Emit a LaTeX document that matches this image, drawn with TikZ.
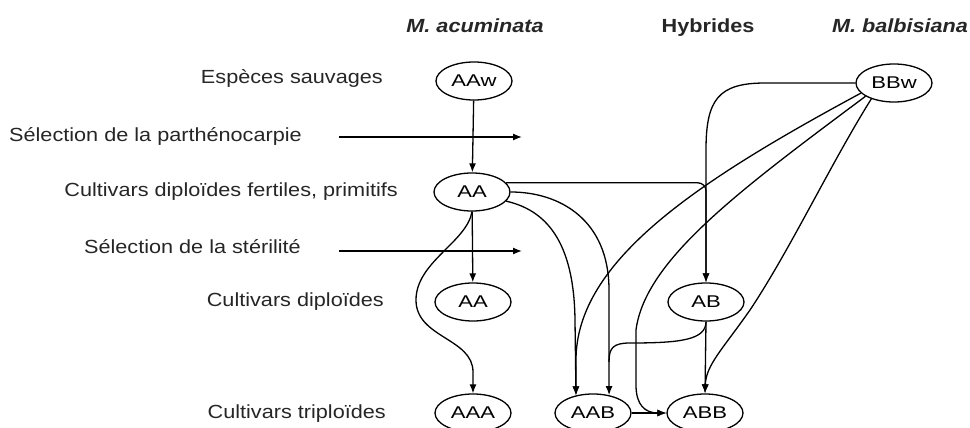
\documentclass[tikz,border=0pt]{standalone}
\usepackage{fontspec}
\setmainfont{Liberation Sans}
\usepackage{graphicx}
\usetikzlibrary{shapes.geometric,arrows.meta}
\newcommand{\wlab}[1]{\scalebox{1.14}[1]{#1}}
\newcommand{\wnod}[1]{\scalebox{1.3}[1]{#1}}
\begin{document}
\begin{tikzpicture}[x=1pt,y=-1pt,
  lab/.style={anchor=base east,inner sep=0pt,font=\fontsize{19}{22}\selectfont,text=black!85},
  head/.style={anchor=base,inner sep=0pt,font=\fontsize{19}{22}\selectfont\bfseries,text=black!85},
  ell/.style={ellipse,draw,line width=1.3pt,minimum width=76pt,minimum height=38pt,inner sep=0pt,font=\fontsize{17}{19}\selectfont},
  conn/.style={line width=1.3pt},
  arr/.style={line width=1.3pt,-{Latex[length=9pt,width=7pt]}}]
\useasboundingbox[fill=white] (0,0) rectangle (970,428);

% headers
\node[head] (hacum) at (475,33) {\wlab{\itshape M. acuminata}};
\node[head] (hhyb) at (708,33) {\wlab{Hybrides}};
\node[head] (hbalb) at (900,33) {\wlab{\itshape M. balbisiana}};

% left labels
\node[lab] (l1) at (383,84) {\wlab{Espèces sauvages}};
\node[lab] (l2) at (302,141) {\wlab{Sélection de la parthénocarpie}};
\node[lab] (l3) at (398,196) {\wlab{Cultivars diploïdes fertiles, primitifs}};
\node[lab] (l4) at (301,253) {\wlab{Sélection de la stérilité}};
\node[lab] (l5) at (384,306) {\wlab{Cultivars diploïdes}};
\node[lab] (l6) at (386,418) {\wlab{Cultivars triploïdes}};

% genome nodes
\node[ell] (AAw) at (474,81) {\wnod{AAw}};
\node[ell] (AA1) at (472,192) {\wnod{AA}};
\node[ell] (AA2) at (473,302) {\wnod{AA}};
\node[ell] (AAA) at (473,413) {\wnod{AAA}};
\node[ell] (AAB) at (593,413) {\wnod{AAB}};
\node[ell] (ABB) at (705,413) {\wnod{ABB}};
\node[ell] (AB) at (706,302) {\wnod{AB}};
\node[ell] (BBw) at (894,83) {\wnod{BBw}};

% selection arrows
\coordinate (s1a) at (339,137);
\coordinate (s1b) at (522,137);
\coordinate (s2a) at (339,251);
\coordinate (s2b) at (522,251);
\draw[arr] (s1a) -- (s1b);
\draw[arr] (s2a) -- (s2b);

% acuminata line
\draw[arr] (AAw) -- (AA1);
\draw[arr] (AA1) -- (AA2);
\draw[arr] (AA1.south) .. controls (467,242) and (416,262) .. (416,300)
  .. controls (416,338) and (473,338) .. (473,372) -- (AAA.north);

% AA -> AB
\draw[arr,rounded corners=8pt] (AA1.15) -| (AB.north);
% BBw -> AB
\draw[arr] (BBw.west) -- (765,83) .. controls (718,83) and (706,100) .. (706,150) -- (AB.north);

% AA -> AAB (two curves)
\draw[arr] (AA1.east) .. controls (560,192) and (609,220) .. (609,290) -- (AAB.48);
\draw[arr] (AA1.-15) .. controls (545,210) and (574,240) .. (575,320) -- (AAB.134);

% BBw -> AAB
\draw[arr] (BBw.197) .. controls (700,180) and (576,260) .. (576,360) -- (AAB.134);
% BBw -> ABB (via left)
\draw[arr] (BBw.205) .. controls (740,190) and (645,260) .. (636,330) -- (636,385)
  .. controls (636,405) and (645,413) .. (ABB.west);
% BBw -> ABB (direct)
\draw[arr] (BBw.215) .. controls (830,165) and (790,250) .. (750,310)
  .. controls (722,350) and (706,365) .. (ABB.north);

% AB -> ABB, AB -> AAB
\draw[arr] (AB.south) -- (ABB.north);
\draw[conn] (AB.south) .. controls (706,340) and (680,343) .. (630,343)
  .. controls (613,343) and (609,348) .. (609,362);

% AAB -> ABB
\draw[arr] (AAB.east) -- (ABB.west);
\end{tikzpicture}
\end{document}
